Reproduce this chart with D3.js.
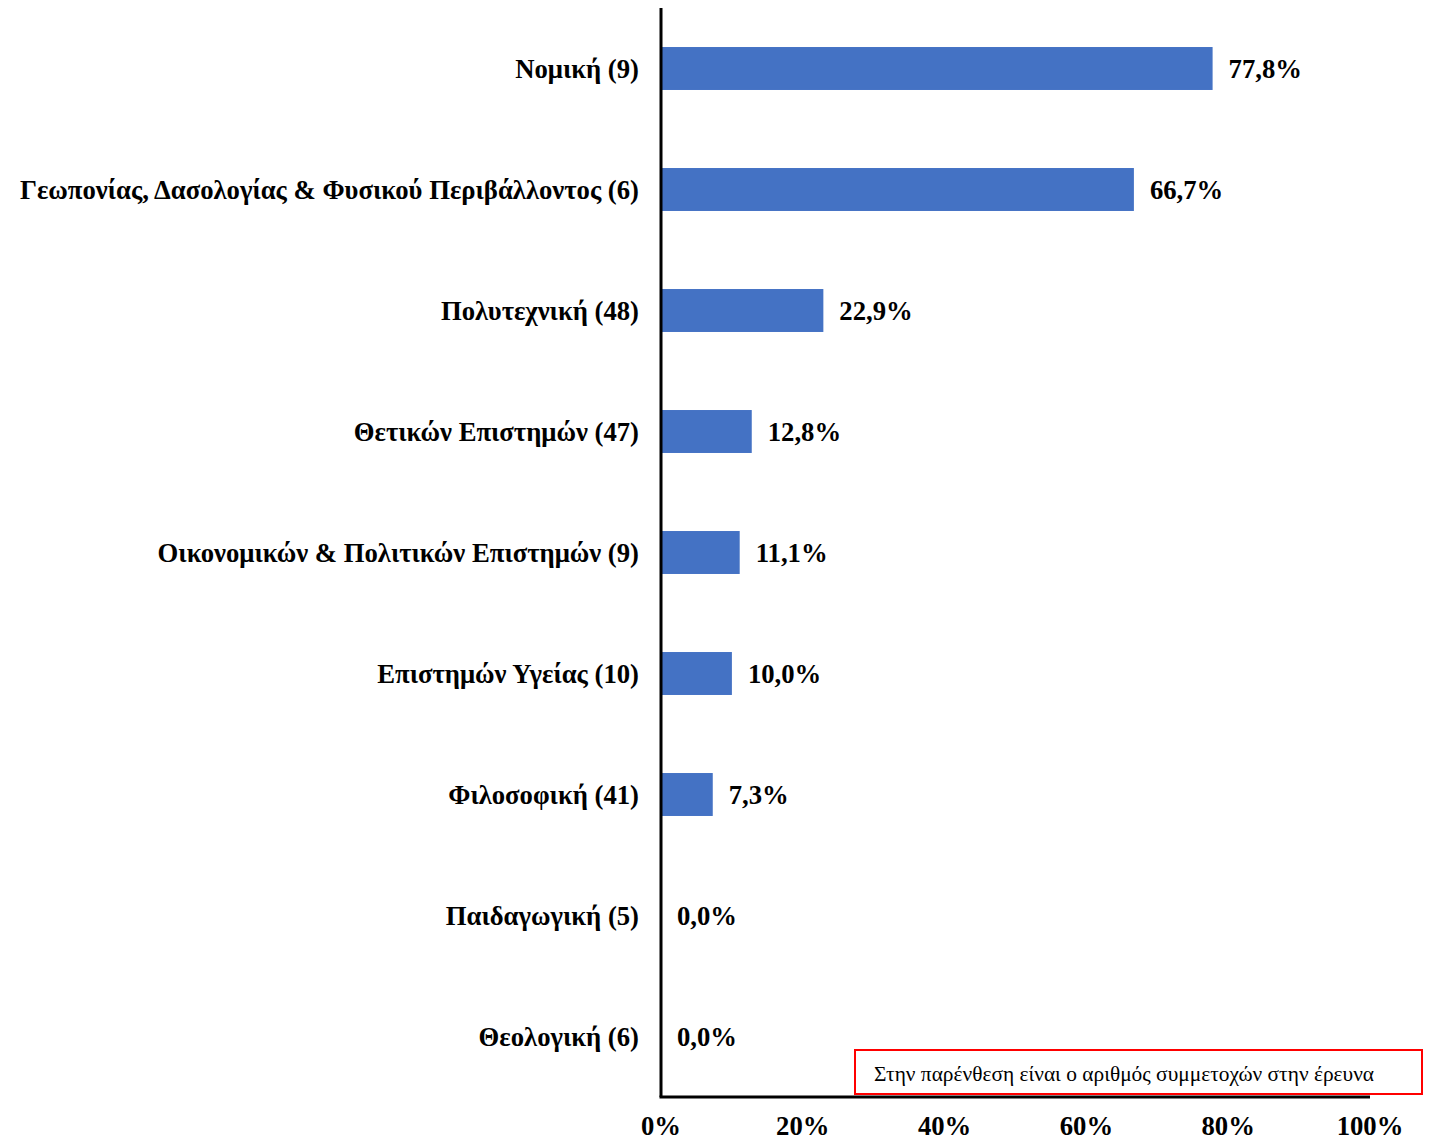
<!DOCTYPE html>
<html lang="el">
  <head>
    <meta charset="UTF-8" />
    <title>Ποσοστά ανά σχολή</title>
    <script src="https://d3js.org/d3.v7.min.js"></script>
    <style>
      body {
        margin: 0;
        background: #fff;
      }
      svg {
        display: block;
        font-family: "Liberation Serif", "Times New Roman", serif;
      }
      .lbl {
        font-size: 26.7px;
        font-weight: bold;
        fill: #000;
      }
      .note {
        font-size: 21.4px;
        fill: #000;
      }
    </style>
  </head>
  <body>
    <svg id="chart" width="1431" height="1142"></svg>

    <script>
      // σχολές (με αριθμό συμμετοχών) και ποσοστά
      const categories = [
        "Νομική (9)",
        "Γεωπονίας, Δασολογίας & Φυσικού Περιβάλλοντος (6)",
        "Πολυτεχνική (48)",
        "Θετικών Επιστημών (47)",
        "Οικονομικών & Πολιτικών Επιστημών (9)",
        "Επιστημών Υγείας (10)",
        "Φιλοσοφική (41)",
        "Παιδαγωγική (5)",
        "Θεολογική (6)",
      ];
      const values = [77.8, 66.7, 22.9, 12.8, 11.1, 10.0, 7.3, 0.0, 0.0];
      const ticks = [0, 20, 40, 60, 80, 100];
      const note = "Στην παρένθεση είναι ο αριθμός συμμετοχών στην έρευνα";

      const data = categories.map((c, i) => ({ name: c, value: values[i] }));

      const svg = d3.select("#chart");
      const plotLeft = 661, plotRight = 1370, plotTop = 8, plotBottom = 1097;

      const x = d3.scaleLinear().domain([0, 100]).range([plotLeft, plotRight]);
      const y = d3
        .scaleBand()
        .domain(categories)
        .range([plotTop, plotBottom])
        .paddingInner(0.645)
        .paddingOuter(0.3225);

      const fmt = (v) => v.toFixed(1).replace(".", ",") + "%";

      // μπάρες
      svg
        .selectAll("rect.bar")
        .data(data)
        .join("rect")
        .attr("class", "bar")
        .attr("x", x(0))
        .attr("y", (d) => y(d.name))
        .attr("width", (d) => x(d.value) - x(0))
        .attr("height", y.bandwidth())
        .attr("fill", "#4472c4");

      // τιμές
      svg
        .selectAll("text.val")
        .data(data)
        .join("text")
        .attr("class", "lbl val")
        .attr("x", (d) => x(d.value) + 16)
        .attr("y", (d) => y(d.name) + y.bandwidth() / 2)
        .attr("dy", "0.35em")
        .text((d) => fmt(d.value));

      // ετικέτες κατηγοριών
      svg
        .selectAll("text.cat")
        .data(data)
        .join("text")
        .attr("class", "lbl cat")
        .attr("x", plotLeft - 22)
        .attr("y", (d) => y(d.name) + y.bandwidth() / 2)
        .attr("dy", "0.35em")
        .attr("text-anchor", "end")
        .text((d) => d.name);

      // άξονες
      svg
        .append("line")
        .attr("x1", plotLeft)
        .attr("x2", plotLeft)
        .attr("y1", plotTop)
        .attr("y2", plotBottom)
        .attr("stroke", "#000")
        .attr("stroke-width", 3);
      svg
        .append("line")
        .attr("x1", plotLeft - 1.5)
        .attr("x2", plotRight)
        .attr("y1", plotBottom)
        .attr("y2", plotBottom)
        .attr("stroke", "#000")
        .attr("stroke-width", 3);

      svg
        .selectAll("text.tick")
        .data(ticks)
        .join("text")
        .attr("class", "lbl tick")
        .attr("x", (d) => x(d))
        .attr("y", 1135)
        .attr("text-anchor", "middle")
        .text((d) => d + "%");

      // σημείωση
      svg
        .append("rect")
        .attr("x", 855)
        .attr("y", 1050)
        .attr("width", 567)
        .attr("height", 44)
        .attr("fill", "#fff")
        .attr("stroke", "#ff0000")
        .attr("stroke-width", 2);
      svg
        .append("text")
        .attr("class", "note")
        .attr("x", 874)
        .attr("y", 1081)
        .text(note);
    </script>
  </body>
</html>
